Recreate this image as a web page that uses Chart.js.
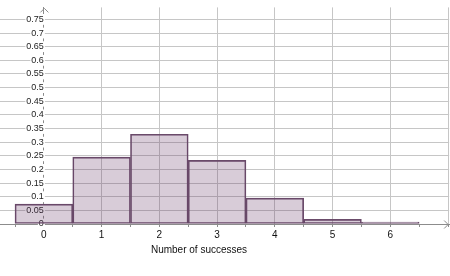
<!DOCTYPE html>
<html>
<head>
<meta charset="utf-8">
<script src="https://cdn.jsdelivr.net/npm/chart.js@4"></script>
<style>
  html, body { margin: 0; padding: 0; background: #fff; }
  #wrap { width: 450px; height: 276px; }
</style>
</head>
<body>
<div id="wrap"><canvas id="histChart" width="450" height="276"></canvas></div>
<script>
// values
const successes = [0, 1, 2, 3, 4, 5, 6];
const probabilities = [0.073, 0.245, 0.329, 0.233, 0.095, 0.017, 0.002];
const xTitle = 'Number of successes';
const yStep = 0.05;
const xView = [-0.76, 7.02];
const yView = [0, 0.794];

const axisColor = '#8c8c8c';
const gridColor = '#c6c6c6';

// arrow heads on the axes + x axis title
const axisExtras = {
    id: 'axisExtras',
    afterDraw(chart) {
        const ctx = chart.ctx;
        const area = chart.chartArea;
        const ox = chart.scales.x.getPixelForValue(0);
        const oy = chart.scales.y.getPixelForValue(0);
        ctx.save();
        ctx.strokeStyle = axisColor;
        ctx.lineWidth = 1;
        ctx.beginPath();
        ctx.moveTo(ox - 3.5, area.top + 5);
        ctx.lineTo(ox + 0.5, area.top + 1);
        ctx.lineTo(ox + 4.5, area.top + 5);
        ctx.moveTo(area.right - 5, oy - 3.5);
        ctx.lineTo(area.right - 1, oy + 0.5);
        ctx.lineTo(area.right - 5, oy + 4.5);
        ctx.stroke();
        ctx.fillStyle = '#111';
        ctx.font = '10px "Liberation Sans", Arial, sans-serif';
        ctx.textAlign = 'center';
        ctx.textBaseline = 'middle';
        ctx.fillText(xTitle, area.left + 199, 250);
        ctx.restore();
    }
};

const ctx = document.getElementById('histChart').getContext('2d');
const chart = new Chart(ctx, {
    type: 'bar',
    data: {
        datasets: [{
            data: successes.map((k, i) => ({ x: k, y: probabilities[i] })),
            backgroundColor: 'rgba(101, 51, 101, 0.25)',
            borderColor: '#6a4b6a',
            borderWidth: 1,
            borderSkipped: false,
            minBarLength: 2,
            barThickness: 'flex',
            barPercentage: 1,
            categoryPercentage: 1
        }]
    },
    options: {
        responsive: false,
        animation: false,
        layout: { padding: 0 },
        plugins: {
            legend: { display: false },
            tooltip: { enabled: false }
        },
        scales: {
            x: {
                type: 'linear',
                position: 'bottom',
                offset: false,
                min: xView[0],
                max: xView[1],
                afterFit(scale) { scale.height = 52; },
                grid: {
                    offset: false,
                    color: (c) => (c.tick && Number.isInteger(c.tick.value)) ? gridColor : 'rgba(0,0,0,0)',
                    tickColor: axisColor,
                    tickLength: 3,
                    drawTicks: true
                },
                border: { color: axisColor },
                ticks: {
                    stepSize: 0.5,
                    includeBounds: false,
                    autoSkip: false,
                    maxRotation: 0,
                    padding: 2,
                    color: '#111',
                    font: { family: '"Liberation Sans", Arial, sans-serif', size: 10 },
                    callback: (v) => (Number.isInteger(v) && v >= 0 && v <= 6) ? String(v) : ''
                }
            },
            y: {
                type: 'linear',
                position: { x: 0 },
                min: yView[0],
                max: yView[1],
                grid: {
                    color: gridColor,
                    tickColor: axisColor,
                    tickLength: 3
                },
                border: { color: axisColor },
                ticks: {
                    stepSize: yStep,
                    includeBounds: false,
                    padding: 2,
                    color: '#222',
                    showLabelBackdrop: true,
                    backdropColor: '#fff',
                    backdropPadding: { top: 0, bottom: 0, left: 1, right: 1 },
                    font: { family: '"Liberation Sans", Arial, sans-serif', size: 9 },
                    callback: (v) => String(+v.toFixed(2))
                }
            }
        }
    },
    plugins: [axisExtras]
});
</script>
</body>
</html>
